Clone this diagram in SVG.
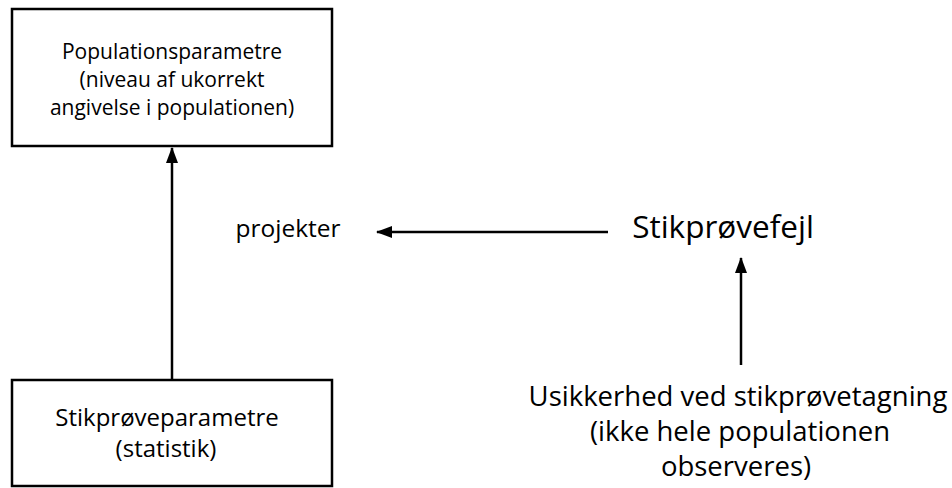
<svg xmlns="http://www.w3.org/2000/svg" width="952" height="488" viewBox="0 0 952 488">
<style>
text{font-family:"Open Sans","Liberation Sans",sans-serif;fill:#000;text-anchor:middle}
.box{fill:#fff;stroke:#000;stroke-width:2.5}
.ln{stroke:#000;stroke-width:2.5;fill:none}
.s1{font-size:21px}
.s2{font-size:24px}
.s3{font-size:24.5px}
.s4{font-size:31.5px}
.s5{font-size:27.5px}
</style>
<defs>
<marker id="ah" viewBox="0 0 16 12" refX="15" refY="6" markerWidth="16" markerHeight="12" markerUnits="userSpaceOnUse" orient="auto">
<path d="M0,0 L16,6 L0,12 Z" fill="#000"/>
</marker>
</defs>
<rect width="952" height="488" fill="#fff"/>
<g id="connectors">
<line class="ln" x1="172" y1="379" x2="172" y2="148" marker-end="url(#ah)"/>
<line class="ln" x1="608" y1="232" x2="377" y2="232" marker-end="url(#ah)"/>
<line class="ln" x1="741" y1="365" x2="741" y2="258" marker-end="url(#ah)"/>
</g>
<g id="populationsparametre">
<rect class="box" x="12" y="9" width="320" height="137"/>
<text class="s1" x="172" y="59">Populationsparametre</text>
<text class="s1" x="172" y="87">(niveau af ukorrekt</text>
<text class="s1" x="172" y="115">angivelse i populationen)</text>
</g>
<g id="stikproeveparametre">
<rect class="box" x="12" y="380" width="320" height="106"/>
<text class="s2" x="167" y="426">Stikprøveparametre</text>
<text class="s2" x="166" y="457">(statistik)</text>
</g>
<g id="projekter">
<text class="s3" x="288" y="237">projekter</text>
</g>
<g id="stikproevefejl">
<text class="s4" x="723" y="238">Stikprøvefejl</text>
</g>
<g id="usikkerhed">
<text class="s5" x="738" y="406">Usikkerhed ved stikprøvetagning</text>
<text class="s5" x="740" y="441">(ikke hele populationen</text>
<text class="s5" x="736" y="476">observeres)</text>
</g>
</svg>
